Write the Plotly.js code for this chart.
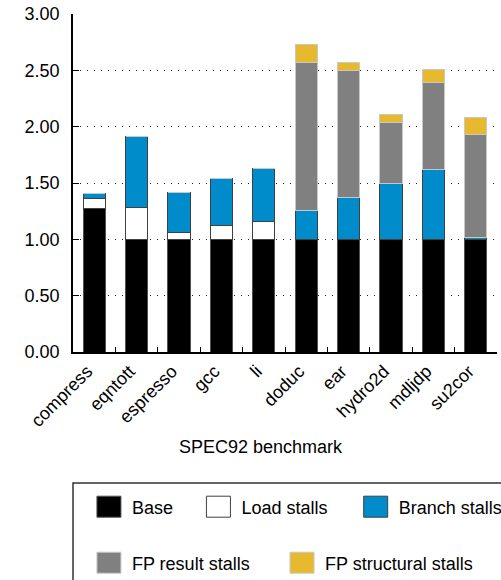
<!DOCTYPE html>
<html>
<head>
<meta charset="utf-8">
<script src="https://cdn.plot.ly/plotly-3.0.1.min.js"></script>
<style>html,body{margin:0;padding:0;background:#fff;}#chart{width:501px;height:580px;}</style>
</head>
<body>
<div id="chart"></div>
<script>
var categories = ["compress","eqntott","espresso","gcc","li","doduc","ear","hydro2d","mdljdp","su2cor"];
var seriesNames = ["Base","Load stalls","Branch stalls","FP result stalls","FP structural stalls"];
var base        = [1.27, 1.00, 1.00, 1.00, 1.00, 1.00, 1.00, 1.00, 1.00, 1.00];
var loadStalls  = [0.09, 0.28, 0.06, 0.12, 0.16, 0.00, 0.00, 0.00, 0.00, 0.00];
var branchStalls= [0.05, 0.63, 0.36, 0.42, 0.47, 0.26, 0.37, 0.50, 0.62, 0.02];
var fpResult    = [0.00, 0.00, 0.00, 0.00, 0.00, 1.31, 1.13, 0.54, 0.77, 0.91];
var fpStruct    = [0.00, 0.00, 0.00, 0.00, 0.00, 0.16, 0.07, 0.07, 0.12, 0.15];
var yTicks = [0, 0.5, 1, 1.5, 2, 2.5, 3];

var colors = ["#000000","#ffffff","#008bca","#808080","#e6b92e"];
var lineColors = ["#505050","#404040","#404040","#c8c8c8","#c8c8c8"];
var values = [base, loadStalls, branchStalls, fpResult, fpStruct];
var legendIds = ["legend","legend2","legend3","legend4","legend5"];

var traces = values.map(function(v, i){
  return {
    type: "bar", name: seriesNames[i], x: categories, y: v,
    marker: {color: colors[i], line: {color: lineColors[i], width: 1}},
    legend: legendIds[i], hoverinfo: "x+y+name"
  };
});

var font = {family: "Liberation Sans, Arial, sans-serif", size: 18, color: "#000"};
function lg(x, y){
  return {x: x, y: y, xanchor: "left", yanchor: "middle", orientation: "h",
          bgcolor: "rgba(0,0,0,0)", borderwidth: 0, itemwidth: 36,
          font: font, itemclick: false, itemdoubleclick: false};
}

var layout = {
  width: 501, height: 580,
  margin: {l: 73, r: 4, t: 14, b: 228, autoexpand: false},
  paper_bgcolor: "#fff", plot_bgcolor: "#fff",
  barmode: "stack", bargap: 0.48,
  font: font,
  showlegend: true,
  xaxis: {
    type: "category", range: [-0.5, 9.5],
    showline: true, linecolor: "#000", linewidth: 1.5,
    ticks: "inside", tickson: "boundaries", ticklen: 5, tickcolor: "#000", tickwidth: 1,
    tickangle: -45, ticklabelshift: -7, tickfont: font, showgrid: false, zeroline: false, fixedrange: true
  },
  yaxis: {
    range: [0, 3], tickvals: yTicks, tickformat: ".2f",
    showline: true, linecolor: "#000", linewidth: 1.5,
    ticks: "inside", ticklen: 6, tickcolor: "#000", tickwidth: 1,
    ticklabelstandoff: 8,
    showgrid: true, gridcolor: "#222", gridwidth: 1, griddash: "1px,6px",
    zeroline: false, tickfont: font, fixedrange: true
  },
  annotations: [{
    text: "SPEC92 benchmark", xref: "paper", yref: "paper",
    x: (262-73)/426, y: (352-447)/338, xanchor: "center", yanchor: "middle",
    showarrow: false, font: font
  }],
  shapes: [{
    type: "rect", xref: "paper", yref: "paper",
    x0: 0, x1: 1.2, y0: (352-483)/338, y1: -0.9,
    line: {color: "#333", width: 1.5}, fillcolor: "rgba(0,0,0,0)", layer: "below"
  }],
  legend:  lg((86-73)/426, (352-507)/338),
  legend2: lg((196-73)/426, (352-507)/338),
  legend3: lg((354-73)/426, (352-507)/338),
  legend4: lg((86-73)/426, (352-563)/338),
  legend5: lg((280-73)/426, (352-563)/338)
};

Plotly.newPlot("chart", traces, layout, {displayModeBar: false}).then(function(gd){
  var paths = gd.querySelectorAll("g.legendpoints path");
  paths.forEach(function(p){ p.setAttribute("d", "M12,10.5H-12V-10.5H12Z"); });
});
</script>
</body>
</html>
